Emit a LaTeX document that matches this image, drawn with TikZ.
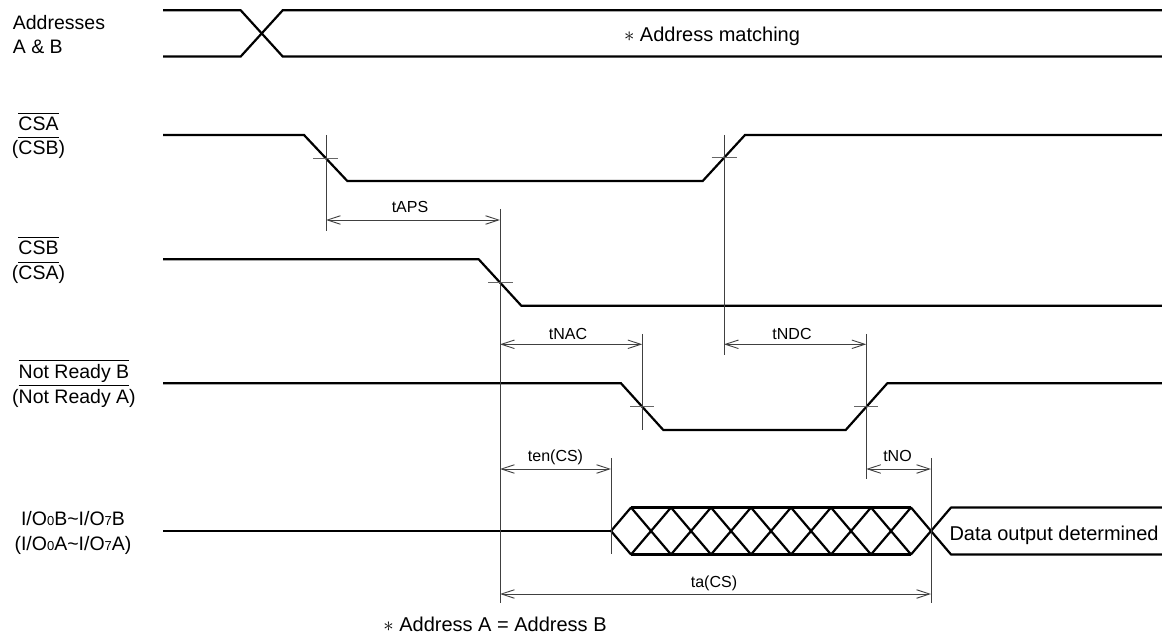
\documentclass[tikz,border=0pt]{standalone}
\usepackage{fontspec}
\setmainfont{Liberation Sans}
\usetikzlibrary{arrows.meta}
\newcommand\ovl[1]{\vbox{\hrule height 1.1pt\kern 3pt\hbox{#1}}}
\newcommand\subsm[1]{{\fontsize{13}{13}\selectfont #1}}
\begin{document}
\begin{tikzpicture}[x=1pt,y=-1pt,
  sig/.style={line width=2.2pt},
  bus/.style={line width=2.2pt,line join=bevel},
  dim/.style={line width=0.9pt,black!75},
  tickl/.style={line width=0.9pt,black!60},
  dimarr/.style={dim,{Straight Barb[length=13pt,width=8.5pt]}-{Straight Barb[length=13pt,width=8.5pt]}},
  lab/.style={font=\fontsize{19.5}{24}\selectfont,inner sep=0pt,anchor=base},
  tlab/.style={font=\fontsize{16}{19}\selectfont,inner sep=0pt,anchor=base},
  txt/.style={font=\fontsize{20}{24}\selectfont,inner sep=0pt,anchor=base}]
\useasboundingbox (0,0) rectangle (1162,636);

% ---- left labels
\node[lab,anchor=base west] (addr1) at (12.7,30) {Addresses};
\node[lab,anchor=base west] (addr2) at (12.7,53.3) {A \& B};
\node[lab] (csa1) at (38.5,131) {\ovl{CSA}};
\node[lab] (csa2) at (38.5,155) {(\ovl{CSB})};
\node[lab] (csb1) at (38.5,255) {\ovl{CSB}};
\node[lab] (csb2) at (38.5,279.5) {(\ovl{CSA})};
\node[lab] (nr1) at (74,378.3) {\ovl{Not Ready B}};
\node[lab] (nr2) at (74,403.3) {(\ovl{Not Ready A})};
\node[lab] (io1) at (73,525.7) {I/O\subsm{0}B\textasciitilde I/O\subsm{7}B};
\node[lab] (io2) at (73,550) {(I/O\subsm{0}A\textasciitilde I/O\subsm{7}A)};

% ---- signals
\draw[sig] (163,10.3) -- (240.7,10.3) -- (282.7,56.5) -- (1162,56.5);
\draw[sig] (163,56.5) -- (240.7,56.5) -- (282.7,10.3) -- (1162,10.3);
\node[txt] (match) at (712,41.7) {$\ast$ Address matching};

\draw[sig] (163,135) -- (304,135) -- (347.3,181) -- (702.7,181) -- (745,135) -- (1162,135);
\draw[sig] (163,259.3) -- (478.7,259.3) -- (521.3,305.7) -- (1162,305.7);
\draw[sig] (163,383.3) -- (621,383.3) -- (663.3,430) -- (845.7,430) -- (887.3,383.3) -- (1162,383.3);

% I/O bus
\draw[sig] (163,531) -- (611,531);
\draw[bus] (611,531) -- (631,507.5) -- (671,554.5) -- (711,507.5) -- (751,554.5) -- (791,507.5)
  -- (831,554.5) -- (871,507.5) -- (911,554.5) -- (951,507.5) -- (1162,507.5);
\draw[bus] (611,531) -- (631,554.5) -- (671,507.5) -- (711,554.5) -- (751,507.5) -- (791,554.5)
  -- (831,507.5) -- (871,554.5) -- (911,507.5) -- (951,554.5) -- (1162,554.5);
\draw[bus] (631,507.5) -- (911,507.5);
\draw[bus] (631,554.5) -- (911,554.5);
\node[txt,anchor=base west] (dataout) at (949.3,540.7) {Data output determined};

% ---- crossing ticks
\draw[tickl] (313,158) -- (338,158);
\draw[tickl] (711.7,157.7) -- (736.7,157.7);
\draw[tickl] (488,282.7) -- (512.7,282.7);
\draw[tickl] (630,406.7) -- (654.3,406.7);
\draw[tickl] (854,406.7) -- (878.3,406.7);

% ---- reference verticals
\coordinate (v1t) at (326,135);   \coordinate (v1b) at (326,231);
\coordinate (v2t) at (724,135);   \coordinate (v2b) at (724,355);
\coordinate (v3t) at (500,209);   \coordinate (v3b) at (500,603);
\coordinate (v4t) at (642.3,334); \coordinate (v4b) at (642.3,430);
\coordinate (v5t) at (866.3,334); \coordinate (v5b) at (866.3,479);
\coordinate (v6t) at (611,458);   \coordinate (v6b) at (611,554);
\coordinate (v7t) at (931,458);   \coordinate (v7b) at (931,603);
\foreach \v in {v1,v2,v3,v4,v5,v6,v7} \draw[dim] (\v t) -- (\v b);

% ---- dimension arrows
\coordinate (aps1) at (326,220);   \coordinate (aps2) at (500,220);
\coordinate (nac1) at (500,344.3); \coordinate (nac2) at (642.3,344.3);
\coordinate (ndc1) at (724,344.3); \coordinate (ndc2) at (866.3,344.3);
\coordinate (en1) at (500,469);    \coordinate (en2) at (611,469);
\coordinate (no1) at (866.3,469);  \coordinate (no2) at (931,469);
\coordinate (ta1) at (500,594);    \coordinate (ta2) at (931,594);
\draw[dimarr] (aps1) -- (aps2);
\draw[dimarr] (nac1) -- (nac2);
\draw[dimarr] (ndc1) -- (ndc2);
\draw[dimarr] (en1) -- (en2);
\draw[dimarr] (no1) -- (no2);
\draw[dimarr] (ta1) -- (ta2);
\node[tlab] (taps) at (410,212.7) {tAPS};
\node[tlab] (tnac) at (568,339) {tNAC};
\node[tlab] (tndc) at (792,339) {tNDC};
\node[tlab] (ten) at (555.5,461.7) {ten(CS)};
\node[tlab] (tno) at (897.5,461.7) {tNO};
\node[tlab] (tacs) at (714,587.3) {ta(CS)};

\node[txt] (note) at (495,631.7) {$\ast$ Address A = Address B};
\end{tikzpicture}
\end{document}
